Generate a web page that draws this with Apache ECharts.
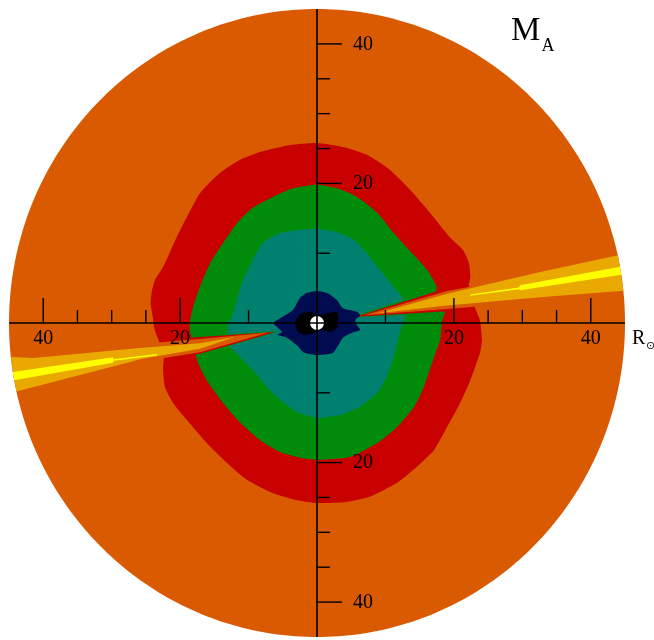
<!DOCTYPE html>
<html><head><meta charset="utf-8">
<script src="https://cdn.jsdelivr.net/npm/echarts/dist/echarts.min.js"></script>
<style>html,body{margin:0;padding:0;background:#fff}#c{width:654px;height:640px}</style>
</head><body><div id="c"></div>
<script>
// ---- data (units: solar radii) ----
const DISK_RADIUS = 45;
const SUN_RADIUS = 1;
const TICK_VALUES = [10, 20, 25, 30, 35, 40];
const LABELED_TICKS = [20, 40];
const TITLE_MAIN = 'M';
const TITLE_SUB = 'A';
const AXIS_UNIT = 'R';
const AXIS_UNIT_SUB = '\u2299';

// Alfvén Mach number contour boundaries (x, y)
const RED_LEVEL = [[0,25.8],[3.9,25.2],[7.3,24.1],[10.7,21.9],[13.6,19.1],[16.5,15.8],[19.4,12.3],[21.3,10.5],[22.2,8.6],[22.4,6.6],[22.2,5.4],[22.8,3.3],[23.2,1.9],[23.8,0.4],[24.1,-2.4],[23.8,-4.3],[22.4,-8.2],[20.9,-11.5],[19.0,-14.9],[17.1,-18.2],[14.6,-20.6],[11.7,-22.9],[7.7,-24.9],[3.9,-25.7],[0,-25.8],[-2.9,-25.4],[-6.4,-24.4],[-10.2,-22.5],[-13.1,-20.1],[-16.1,-17.2],[-19.0,-13.9],[-21.0,-11.5],[-22.2,-9.2],[-22.5,-6.7],[-22.4,-4.6],[-23.7,-1.0],[-24.0,0.9],[-24.3,2.9],[-24.1,4.7],[-23.6,6.3],[-22.5,8.0],[-20.5,12.3],[-19.0,15.2],[-17.1,18.6],[-14.2,21.5],[-11.2,23.4],[-8.3,24.5],[-3.9,25.5]];
const GREEN_LEVEL = [[0,19.8],[2.9,19.3],[5.8,18.1],[8.8,15.8],[11.2,12.9],[13.7,10.2],[16.1,7.6],[17.5,5.2],[17.4,4.2],[18.7,1.6],[18.3,0.4],[18.0,-2.4],[17.1,-4.9],[15.6,-9.2],[14.2,-12.0],[11.7,-14.9],[8.8,-17.2],[4.8,-19.2],[0,-19.6],[-2.5,-19.3],[-5.4,-18.5],[-8.3,-16.8],[-11.2,-14.3],[-13.7,-11.5],[-16.1,-8.2],[-17.4,-5.7],[-17.7,-4.6],[-18.6,-1.0],[-18.6,0],[-18.1,2.3],[-17.1,5.2],[-15.6,8.6],[-13.7,11.5],[-11.7,14.3],[-9.4,16.5],[-6.4,18.1],[-3.5,19.3]];
const TEAL_LEVEL = [[0,13.5],[2.9,13.0],[5.4,11.9],[7.3,10.0],[9.2,7.6],[11.2,5.2],[12.7,3.3],[13.1,1.9],[12.7,0.4],[12.1,-1.4],[11.4,-4.3],[10.2,-7.7],[8.8,-10.0],[6.3,-12.0],[3.4,-13.2],[0,-13.6],[-2.9,-12.8],[-5.4,-11.0],[-7.3,-9.2],[-9.4,-6.7],[-11.2,-4.9],[-12.7,-3.4],[-13.0,-1.7],[-13.0,0],[-12.4,0.9],[-11.7,3.3],[-10.8,6.2],[-9.4,9.0],[-7.9,11.5],[-5.4,12.9],[-2.9,13.3]];
const NAVY_LEVEL = [[0,4.6],[1.5,4.3],[2.9,3.3],[3.8,2.1],[5.8,1.6],[6.3,1.1],[5.6,0.4],[5.8,-0.3],[6.3,-1.0],[5.1,-1.4],[3.8,-2.1],[3.1,-3.2],[2.3,-4.3],[0,-4.6],[-2.0,-4.2],[-2.9,-3.2],[-4.4,-2.1],[-5.8,-1.7],[-5.1,-1.3],[-5.8,-0.6],[-6.4,0],[-5.0,0.9],[-3.5,1.9],[-2.5,3.6],[-1.5,4.3]];
const BLACK_LEVEL = [[-2.9,0.7],[-2.2,1.4],[-1.0,1.6],[0.1,1.1],[1.5,1.4],[2.9,1.6],[3.1,0.4],[2.9,-0.7],[1.9,-1.3],[0.7,-1.0],[-0.3,-1.4],[-1.8,-1.7],[-2.8,-1.3],[-3.2,0]];

// streamer (current sheet) wedges
const RIGHT_GREEN = [[4.8,0.8],[13.5,3.6],[13.5,1.2]];
const RIGHT_RED = [[5.7,0.9],[19.0,5.0],[22.1,5.4],[22.1,1.7],[19.0,1.7]];
const RIGHT_ORANGE = [[6.9,1.1],[19.0,4.6],[26.7,6.0],[26.7,2.6],[19.0,2.0]];
const RIGHT_GOLD = [[8.9,1.4],[19.0,4.2],[32.6,7.3],[44.0,9.7],[44.76,4.63],[32.6,3.7],[19.0,2.5]];
const RIGHT_YELLOW = [[22.4,4.1],[29.5,5.1],[29.7,5.4],[44.27,8.05],[44.46,6.92],[29.7,4.7],[29.5,4.85],[22.4,3.9]];
const LEFT_GREEN = [[-5.5,-1.2],[-13.6,-1.6],[-13.6,-3.5]];
const LEFT_RED = [[-6.1,-1.3],[-17.1,-2.0],[-21.9,-2.4],[-21.9,-4.9],[-17.1,-4.4]];
const LEFT_ORANGE = [[-7.2,-1.4],[-17.1,-2.3],[-25.9,-3.0],[-25.9,-5.6],[-17.1,-4.2]];
const LEFT_GOLD = [[-12.0,-2.0],[-17.1,-2.9],[-25.9,-3.6],[-41.5,-5.0],[-44.74,-4.86],[-43.92,-9.82],[-27.3,-5.6],[-25.9,-5.2],[-17.1,-3.7]];
const LEFT_YELLOW = [[-23.4,-4.45],[-29.7,-5.2],[-29.8,-4.9],[-44.45,-7.04],[-44.25,-8.20],[-29.8,-5.7],[-29.7,-5.4],[-23.4,-4.65]];

// ---- rendering ----
const COLORS = {orange:'#d95a00', red:'#c80000', green:'#008c0a', teal:'#00806e', navy:'#000b50', black:'#000000', gold:'#e9a900', yellow:'#ffff00', white:'#ffffff'};
const SERIF = '"Liberation Serif","DejaVu Serif",serif';

function ringPoints(r, step) {
  const pts = [];
  for (let a = 0; a < 360; a += step) { const t = a * Math.PI / 180; pts.push([r * Math.cos(t), r * Math.sin(t)]); }
  return pts;
}
let zc = 1;
function poly(name, pts, color, smooth) {
  const z = zc++;
  return {
    type: 'custom', name, coordinateSystem: 'cartesian2d', silent: true, clip: false, z,
    data: [[0, 0]],
    renderItem: (params, api) => ({
      type: 'polygon',
      shape: {points: pts.map(p => api.coord(p)), smooth: smooth || 0},
      style: {fill: color}
    })
  };
}

const series = [
  poly('disk', ringPoints(DISK_RADIUS, 1), COLORS.orange, 0),
  poly('red', RED_LEVEL, COLORS.red, 0.2),
  poly('green', GREEN_LEVEL, COLORS.green, 0.2),
  poly('teal', TEAL_LEVEL, COLORS.teal, 0.2),
  poly('rg', RIGHT_GREEN, COLORS.green, 0),
  poly('lg', LEFT_GREEN, COLORS.green, 0),
  poly('rr', RIGHT_RED, COLORS.red, 0),
  poly('lr', LEFT_RED, COLORS.red, 0),
  poly('ro', RIGHT_ORANGE, COLORS.orange, 0),
  poly('lo', LEFT_ORANGE, COLORS.orange, 0),
  poly('rgold', RIGHT_GOLD, COLORS.gold, 0),
  poly('lgold', LEFT_GOLD, COLORS.gold, 0),
  poly('ry', RIGHT_YELLOW, COLORS.yellow, 0),
  poly('ly', LEFT_YELLOW, COLORS.yellow, 0),
  poly('navy', NAVY_LEVEL, COLORS.navy, 0.2),
  poly('black', BLACK_LEVEL, COLORS.black, 0.2),
  poly('sun', ringPoints(SUN_RADIUS, 10), COLORS.white, 0),
  {
    type: 'custom', name: 'axes', coordinateSystem: 'cartesian2d', silent: true, clip: false, z: 100,
    data: [[0, 0]],
    renderItem: (params, api) => {
      const ch = [];
      const stroke = {stroke: '#000', lineWidth: 1.6};
      const L = api.coord([-DISK_RADIUS, 0]), R = api.coord([DISK_RADIUS, 0]);
      const T = api.coord([0, DISK_RADIUS]), B = api.coord([0, -DISK_RADIUS]);
      ch.push({type: 'line', shape: {x1: L[0], y1: L[1], x2: R[0], y2: R[1]}, style: stroke});
      ch.push({type: 'line', shape: {x1: T[0], y1: T[1], x2: B[0], y2: B[1]}, style: stroke});
      TICK_VALUES.forEach(v => [-1, 1].forEach(s => {
        const major = LABELED_TICKS.indexOf(v) >= 0;
        const len = major ? 25 : 13;
        const px = api.coord([s * v, 0]);
        const py = api.coord([0, s * v]);
        ch.push({type: 'line', shape: {x1: px[0], y1: px[1], x2: px[0], y2: px[1] - len}, style: {stroke: '#000', lineWidth: 1.4}});
        ch.push({type: 'line', shape: {x1: py[0], y1: py[1], x2: py[0] + len, y2: py[1]}, style: {stroke: '#000', lineWidth: 1.4}});
        if (major) {
          ch.push({type: 'text', style: {text: String(v), x: px[0], y: px[1] + 15.5, textAlign: 'center', textVerticalAlign: 'middle', font: '20px ' + SERIF, fill: '#000'}});
          ch.push({type: 'text', style: {text: String(v), x: py[0] + 36, y: py[1] + 0.5, textAlign: 'left', textVerticalAlign: 'middle', font: '20px ' + SERIF, fill: '#000'}});
        }
      }));
      return {type: 'group', children: ch};
    }
  }
];

const chart = echarts.init(document.getElementById('c'), null, {renderer: 'canvas'});
chart.setOption({
  animation: false,
  backgroundColor: '#ffffff',
  grid: {left: 9, top: 9, width: 616, height: 628, containLabel: false},
  xAxis: {type: 'value', min: -DISK_RADIUS, max: DISK_RADIUS, show: false},
  yAxis: {type: 'value', min: -DISK_RADIUS, max: DISK_RADIUS, show: false},
  series,
  graphic: [
    {type: 'text', x: 511, y: 31, style: {text: TITLE_MAIN, font: '33px ' + SERIF, fill: '#000', textVerticalAlign: 'middle'}},
    {type: 'text', x: 541.5, y: 46, style: {text: TITLE_SUB, font: '18px ' + SERIF, fill: '#000', textVerticalAlign: 'middle'}},
    {type: 'text', x: 632, y: 338.5, style: {text: AXIS_UNIT, font: '20px ' + SERIF, fill: '#000', textVerticalAlign: 'middle'}},
    {type: 'text', x: 646, y: 346, style: {text: AXIS_UNIT_SUB, font: '11px "DejaVu Sans"', fill: '#000', textVerticalAlign: 'middle'}}
  ]
});
</script>
</body></html>
